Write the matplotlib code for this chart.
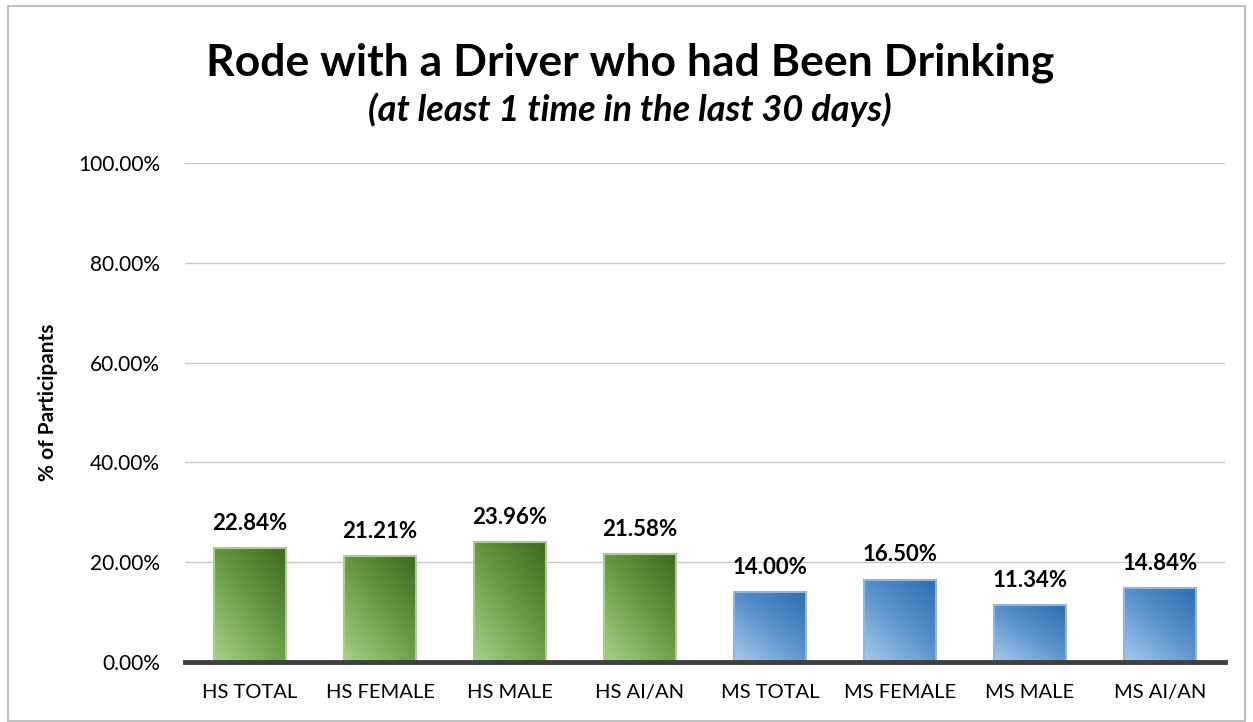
import numpy as np
import matplotlib.pyplot as plt
from matplotlib.colors import LinearSegmentedColormap
from matplotlib.patches import Rectangle

categories = ['HS TOTAL', 'HS FEMALE', 'HS MALE', 'HS AI/AN',
              'MS TOTAL', 'MS FEMALE', 'MS MALE', 'MS AI/AN']
values = [22.84, 21.21, 23.96, 21.58, 14.00, 16.50, 11.34, 14.84]
groups = ['HS', 'HS', 'HS', 'HS', 'MS', 'MS', 'MS', 'MS']
yticks = [0, 20, 40, 60, 80, 100]

plt.rcParams['font.family'] = ['Lato', 'DejaVu Sans']

fig = plt.figure(figsize=(12.53, 7.22), dpi=100)
ax = fig.add_axes([0.1476, 0.0831, 0.8301, 0.6911])

# gradient colormaps: light bottom-left -> dark top-right
cmaps = {
    'HS': LinearSegmentedColormap.from_list('g', ['#a6d08a', '#6a9c45', '#3e6b1f']),
    'MS': LinearSegmentedColormap.from_list('b', ['#a8c9ea', '#5b93cc', '#2c6fb2']),
}
edges = {'HS': '#a9cc90', 'MS': '#8fb6de'}

xs = np.arange(len(categories))
width = 0.56
bars = ax.bar(xs, values, width=width, color='none', zorder=3)
gx, gy = np.meshgrid(np.linspace(0, 1, 60), np.linspace(0, 1, 60))
grad = (gx * 0.45 + gy * 0.55)
for b, g in zip(bars, groups):
    x0, w, h = b.get_x(), b.get_width(), b.get_height()
    im = ax.imshow(grad, cmap=cmaps[g], origin='lower', aspect='auto',
                   extent=[x0, x0 + w, 0, h], zorder=3)
    im.set_clip_path(b)
    ax.add_patch(Rectangle((x0, 0), w, h, fill=False, ec=edges[g], lw=1.5, zorder=4))

for x, v in zip(xs, values):
    ax.text(x, v + 5.0, f'{v:.2f}%', ha='center', va='center',
            fontsize=16, fontweight='bold', color='black')

ax.set_xlim(-0.5, len(categories) - 0.5)
ax.set_ylim(0, 100)
ax.set_yticks(yticks)
ax.set_yticklabels([f'{t:.2f}%' for t in yticks], fontsize=15)
ax.set_xticks(xs)
ax.set_xticklabels(categories, fontsize=14.5)
ax.tick_params(length=0, pad=16)
ax.tick_params(axis='y', pad=18)
ax.grid(axis='y', color='#c8c8c8', lw=1, zorder=0)
for s in ['top', 'right', 'left']:
    ax.spines[s].set_visible(False)
ax.spines['bottom'].set_color('#404040')
ax.spines['bottom'].set_linewidth(3.5)
ax.spines['bottom'].set_zorder(5)
ax.set_ylabel('% of Participants', fontsize=15, fontweight='bold')
ax.yaxis.set_label_coords(-0.122, 0.52)

fig.text(0.503, 0.913, 'Rode with a Driver who had Been Drinking',
         ha='center', va='center', fontsize=32, fontweight='bold')
fig.text(0.503, 0.848, '(at least 1 time in the last 30 days)',
         ha='center', va='center', fontsize=26, fontweight='bold', style='italic')

fig.patches.append(Rectangle((0.006, 0.002), 0.988, 0.99, transform=fig.transFigure,
                             fill=False, ec='#c0c0c0', lw=1.5))

fig.savefig('out.png', dpi=100)
